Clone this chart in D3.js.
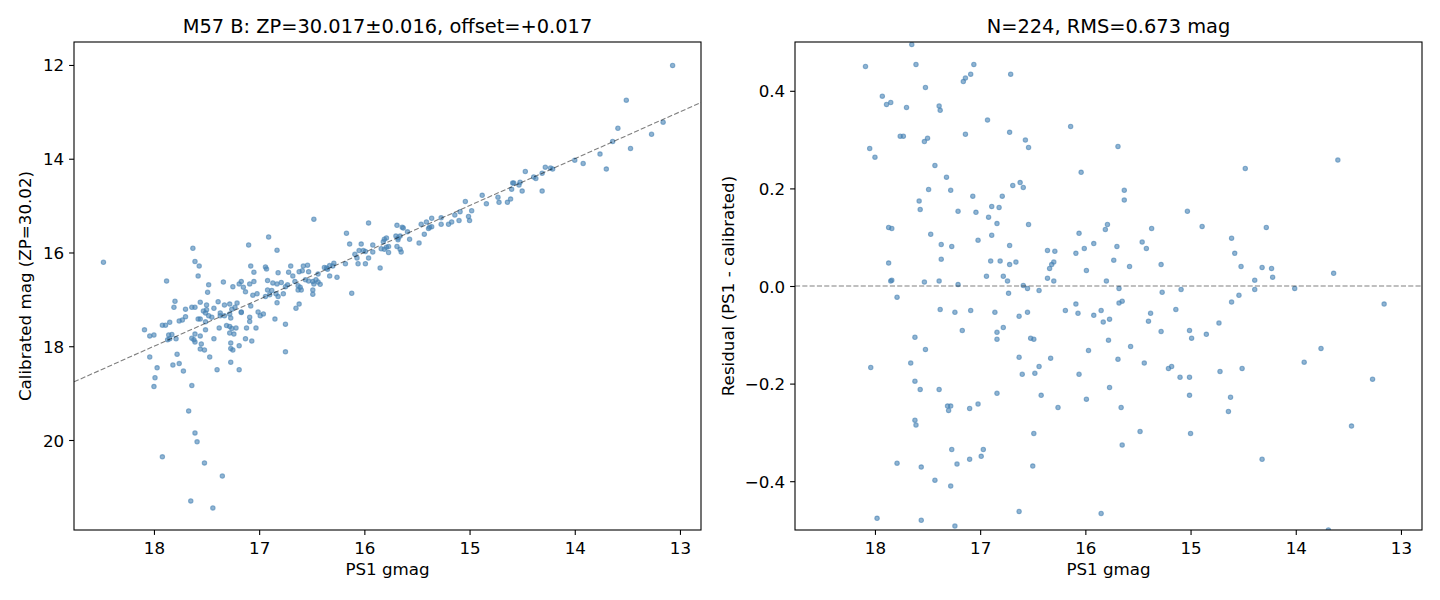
<!DOCTYPE html>
<html><head><meta charset="utf-8">
<script src="https://cdn.jsdelivr.net/npm/d3@7"></script>
<style>
body{margin:0;background:#fff}
svg{display:block}
text{font-family:"DejaVu Sans",sans-serif;fill:#000}
</style>
</head><body><svg id="c" width="1440" height="600"></svg>
<script>
const leftTitle = "M57 B: ZP=30.017\u00b10.016, offset=+0.017";
const rightTitle = "N=224, RMS=0.673 mag";
const xLabel = "PS1 gmag";
const leftYLabel = "Calibrated mag (ZP=30.02)";
const rightYLabel = "Residual (PS1 - calibrated)";
const gmagTicks = [18,17,16,15,14,13];
const magTicks = [12,14,16,18,20];
const residTicks = [-0.4,-0.2,0,0.2,0.4];

// [PS1 gmag, calibrated mag]
const calibPoints = [
[18.48,16.21],[16.91,15.67],[17.10,15.84],[16.83,15.95],[17.63,15.91],[17.61,16.19],[17.57,16.29],[17.08,16.29],
[16.94,16.31],[16.93,16.35],[17.05,16.42],[16.82,16.43],[17.58,16.50],[17.88,16.61],[17.34,16.63],[17.48,16.69],
[17.17,16.62],[17.19,16.67],[17.09,16.67],[17.05,16.62],[16.92,16.60],[16.87,16.65],[16.83,16.67],[16.79,16.64],
[17.25,16.73],[17.15,16.74],[17.13,16.84],[17.49,16.85],[16.92,16.80],[16.88,16.81],[16.90,16.90],[16.84,16.88],
[16.82,16.94],[16.77,16.88],[17.06,16.91],[17.02,16.88],[16.94,16.94],[16.83,17.07],[17.80,17.04],[17.81,17.17],
[17.56,17.06],[17.50,17.12],[17.39,17.05],[17.33,17.12],[17.28,17.10],[17.21,17.08],[17.23,17.17],[17.26,17.21],
[17.17,17.27],[17.08,17.14],[17.64,17.17],[17.61,17.17],[17.70,17.21],[17.53,17.25],[17.50,17.22],[17.51,17.29],
[17.48,17.35],[17.43,17.19],[17.37,17.29],[17.37,17.35],[17.45,17.38],[17.33,17.35],[17.28,17.31],[17.27,17.40],
[17.17,17.28],[17.09,17.38],[17.09,17.47],[17.01,17.27],[16.99,17.35],[16.96,17.31],[16.85,17.42],[16.75,17.53],
[17.70,17.37],[17.76,17.46],[17.73,17.44],[17.58,17.42],[17.56,17.42],[17.51,17.48],[17.85,17.49],[17.92,17.55],
[17.89,17.55],[18.09,17.65],[18.00,17.76],[18.04,17.78],[17.86,17.76],[17.83,17.75],[17.85,17.84],[17.87,17.86],
[17.79,17.84],[17.51,17.65],[17.38,17.61],[17.31,17.56],[17.28,17.58],[17.26,17.62],[17.22,17.61],[17.28,17.72],
[17.24,17.74],[17.12,17.61],[17.03,17.61],[17.64,17.83],[17.61,17.74],[17.62,17.86],[17.56,17.78],[17.61,17.91],
[17.55,17.95],[17.43,17.84],[17.27,17.93],[17.13,17.84],[17.07,17.89],[17.56,18.06],[17.52,18.08],[17.27,18.05],
[17.25,18.08],[17.19,17.99],[17.78,18.17],[17.47,18.23],[18.04,18.23],[16.75,18.12],[17.97,18.46],[17.82,18.40],
[17.76,18.37],[17.72,18.53],[17.40,18.50],[17.27,18.34],[17.19,18.50],[17.99,18.67],[18.00,18.86],[17.64,18.84],
[17.67,19.38],[17.61,19.85],[17.59,20.04],[17.92,20.36],[17.52,20.49],[17.35,20.77],[17.65,21.30],[17.44,21.45],
[15.04,14.91],[16.48,15.29],[15.96,15.37],[15.69,15.42],[15.64,15.46],[15.63,15.48],[15.59,15.56],[15.46,15.40],
[15.41,15.35],[15.36,15.27],[15.38,15.46],[15.39,15.49],[15.36,15.45],[15.27,15.26],[15.27,15.40],[15.20,15.40],
[15.17,15.35],[15.14,15.20],[15.10,15.32],[15.09,15.13],[15.01,15.23],[14.98,15.11],[15.00,15.32],[15.43,15.61],
[15.48,15.80],[15.57,15.72],[16.17,15.59],[16.14,15.82],[16.03,15.82],[15.92,15.84],[15.81,15.72],[15.79,15.69],
[15.82,15.77],[15.70,15.65],[15.68,15.69],[15.66,15.65],[15.68,15.73],[15.69,15.87],[15.66,15.93],[15.65,15.99],
[15.84,15.92],[15.81,15.93],[15.79,15.89],[15.77,15.87],[15.77,16.00],[15.92,15.99],[16.05,15.96],[16.01,15.96],
[15.99,15.98],[16.09,16.04],[16.07,16.12],[16.06,16.24],[15.96,16.12],[15.99,16.24],[16.18,16.24],[15.85,16.33],
[16.29,16.23],[16.30,16.29],[16.33,16.28],[16.36,16.33],[16.35,16.36],[16.38,16.32],[16.44,16.46],[16.33,16.50],
[16.26,16.53],[16.54,16.27],[16.58,16.29],[16.59,16.39],[16.62,16.41],[16.53,16.41],[16.70,16.29],[16.72,16.42],
[16.68,16.50],[16.75,16.73],[16.73,16.69],[16.66,16.62],[16.63,16.71],[16.61,16.74],[16.56,16.58],[16.53,16.61],
[16.49,16.62],[16.46,16.58],[16.44,16.63],[16.42,16.68],[16.48,16.67],[16.63,16.80],[16.60,16.80],[16.49,16.80],
[16.49,16.89],[16.12,16.87],[16.62,17.10],[16.65,17.19],
[13.07,12.01],[13.51,12.75],[13.59,13.35],[13.16,13.22],[13.27,13.48],[13.64,13.63],[13.47,13.78],[13.76,13.90],
[13.70,14.22],[14.00,14.03],[13.92,14.10],[14.47,14.27],[14.28,14.18],[14.23,14.20],[14.21,14.22],[14.31,14.31],
[14.39,14.39],[14.37,14.42],[14.59,14.52],[14.58,14.52],[14.52,14.50],[14.53,14.56],[14.60,14.65],[14.50,14.69],
[14.31,14.69],[14.88,14.78],[14.73,14.82],[14.72,14.93],[14.84,14.96],[14.64,14.93],[14.61,14.86]
];

// [PS1 gmag, residual]
const residPoints = [
[17.65,0.495],[18.09,0.450],[17.61,0.454],[17.06,0.454],[17.09,0.434],[17.14,0.426],[17.16,0.419],[16.71,0.434],
[17.52,0.407],[17.93,0.389],[17.89,0.372],[17.85,0.376],[17.70,0.366],[17.39,0.369],[17.38,0.360],[16.93,0.340],
[16.72,0.315],[17.14,0.311],[17.76,0.307],[17.73,0.307],[17.50,0.303],[17.53,0.296],[16.57,0.299],[16.54,0.284],
[18.05,0.282],[18.00,0.264],[17.43,0.247],[17.32,0.223],[17.49,0.198],[17.28,0.196],[16.62,0.212],[16.69,0.206],
[16.59,0.202],[17.07,0.184],[16.79,0.184],[17.58,0.174],[17.57,0.157],[17.21,0.153],[17.04,0.151],[16.89,0.163],
[16.82,0.161],[16.92,0.141],[16.84,0.128],[16.54,0.126],[17.87,0.120],[17.84,0.118],[17.47,0.106],[16.89,0.104],
[17.02,0.094],[17.37,0.085],[17.27,0.081],[16.72,0.083],[16.36,0.073],[16.29,0.071],[17.37,0.055],[17.87,0.047],
[16.90,0.051],[16.81,0.051],[16.72,0.044],[16.66,0.049],[16.34,0.036],[16.32,0.044],[16.30,0.049],[16.94,0.020],
[16.78,0.020],[16.74,0.010],[17.84,0.012],[17.85,0.010],[17.53,0.008],[17.39,0.010],[17.21,0.003],[16.36,0.016],
[16.30,0.010],[16.59,0.001],[16.55,-0.005],[16.44,-0.009],
[17.79,-0.023],[16.73,-0.015],[17.38,-0.048],[17.24,-0.054],[17.09,-0.050],[16.86,-0.054],[16.63,-0.062],[16.55,-0.054],
[17.17,-0.091],[16.78,-0.085],[16.84,-0.095],[16.84,-0.109],[16.52,-0.107],[16.49,-0.109],[17.62,-0.105],[17.52,-0.130],
[18.04,-0.167],[17.66,-0.158],[16.63,-0.146],[16.33,-0.148],[16.44,-0.165],[16.60,-0.181],[16.48,-0.179],[17.62,-0.195],
[17.57,-0.212],[17.39,-0.212],[16.84,-0.220],[16.42,-0.224],[17.31,-0.246],[17.28,-0.246],[17.30,-0.255],[17.10,-0.251],
[17.02,-0.242],[16.26,-0.249],[17.62,-0.275],[17.61,-0.285],[16.49,-0.302],[17.27,-0.335],[16.97,-0.335],[16.99,-0.349],
[17.10,-0.355],[17.22,-0.365],[17.79,-0.363],[17.56,-0.371],[16.50,-0.369],[17.43,-0.398],[17.28,-0.410],[16.63,-0.462],
[17.98,-0.476],[17.56,-0.480],[17.24,-0.492],
[16.14,0.327],[15.69,0.286],[16.04,0.233],[15.63,0.196],[15.63,0.176],[15.03,0.153],[14.89,0.122],[14.48,0.241],
[15.79,0.126],[15.81,0.116],[16.06,0.108],[15.37,0.118],[15.92,0.087],[16.09,0.067],[16.01,0.077],[15.70,0.081],
[15.46,0.090],[15.42,0.077],[14.61,0.098],[14.58,0.067],[14.52,0.040],[15.73,0.053],[15.99,0.032],[15.58,0.040],
[15.28,0.044],[15.80,0.010],[15.68,-0.005],[15.09,-0.007],[14.39,0.012],
[15.27,-0.013],[14.39,-0.007],[16.19,-0.050],[16.09,-0.037],[16.07,-0.056],[15.92,-0.060],[15.85,-0.050],[15.83,-0.074],
[15.77,-0.068],[15.68,-0.035],[15.65,-0.031],[15.38,-0.056],[15.40,-0.072],[15.14,-0.048],[14.61,-0.033],[14.54,-0.019],
[15.28,-0.093],[15.01,-0.091],[14.99,-0.107],[14.85,-0.099],[14.73,-0.076],[15.78,-0.111],[15.97,-0.132],[15.57,-0.124],
[15.69,-0.150],[15.44,-0.158],[15.21,-0.169],[15.18,-0.165],[15.10,-0.187],[15.01,-0.187],[14.72,-0.175],[14.51,-0.169],
[16.06,-0.181],[15.77,-0.208],[15.99,-0.232],[15.66,-0.249],[15.01,-0.224],[14.62,-0.228],[14.64,-0.257],[15.48,-0.298],
[15.00,-0.302],[15.65,-0.326],[15.85,-0.466],
[13.60,0.258],[14.28,0.120],[14.32,0.038],[14.23,0.036],[14.22,0.018],[13.64,0.026],[14.01,-0.005],[13.16,-0.037],
[13.76,-0.128],[13.92,-0.156],[13.27,-0.191],[13.47,-0.287],[14.32,-0.355],[13.69,-0.500]
];

const svg = d3.select("#c");
const TOP = 42, BOTTOM = 530;
const gDomain = [18.76, 12.80];
const pointColor = "#4682b4";
const FS = 16.7, TFS = 19.4;

function panel(id, x0, x1, yDomain, yTicks, yFmt, title, yLabel, yLabelOffset, points, refLine) {
  const x = d3.scaleLinear().domain(gDomain).range([x0, x1]);
  const y = d3.scaleLinear().domain(yDomain).range([BOTTOM, TOP]);
  const g = svg.append("g");

  g.append("clipPath").attr("id", id).append("rect")
    .attr("x", x0).attr("y", TOP).attr("width", x1 - x0).attr("height", BOTTOM - TOP);

  const plot = g.append("g").attr("clip-path", `url(#${id})`);
  plot.selectAll("circle").data(points).join("circle")
    .attr("cx", d => x(d[0])).attr("cy", d => y(d[1])).attr("r", 2.2)
    .attr("fill", pointColor).attr("fill-opacity", 0.6)
    .attr("stroke", pointColor).attr("stroke-opacity", 0.6).attr("stroke-width", 1.1);

  plot.append("path").datum(refLine(x, y))
    .attr("d", d3.line().x(d => d[0]).y(d => d[1]))
    .attr("fill", "none").attr("stroke", "#000").attr("stroke-opacity", 0.5)
    .attr("stroke-width", 1.1).attr("stroke-dasharray", "5.1,2.2");

  const xAxis = d3.axisBottom(x).tickValues(gmagTicks).tickFormat(d3.format("d"))
    .tickSize(4.9).tickPadding(4.9).tickSizeOuter(0);
  const xa = g.append("g").attr("transform", `translate(0,${BOTTOM})`).call(xAxis);
  const yAxis = d3.axisLeft(y).tickValues(yTicks).tickFormat(yFmt)
    .tickSize(4.9).tickPadding(4.9).tickSizeOuter(0);
  const ya = g.append("g").attr("transform", `translate(${x0},0)`).call(yAxis);
  [xa, ya].forEach(a => {
    a.select(".domain").remove();
    a.selectAll(".tick line").attr("stroke", "#000").attr("stroke-width", 1.1);
    a.selectAll(".tick text").attr("font-size", FS + "px").attr("font-family", "DejaVu Sans").attr("fill", "#000");
  });
  xa.selectAll(".tick text").attr("dy", "0.85em");
  ya.selectAll(".tick text").attr("dy", "0.36em");

  g.append("rect").attr("x", x0).attr("y", TOP).attr("width", x1 - x0).attr("height", BOTTOM - TOP)
    .attr("fill", "none").attr("stroke", "#000").attr("stroke-width", 1.1);

  g.append("text").attr("x", (x0 + x1) / 2).attr("y", 32.5).attr("text-anchor", "middle")
    .attr("font-size", TFS + "px").text(title);
  g.append("text").attr("x", (x0 + x1) / 2).attr("y", 574.5).attr("text-anchor", "middle")
    .attr("font-size", FS + "px").text(xLabel);
  g.append("text").attr("transform", `translate(${x0 - yLabelOffset},${(TOP + BOTTOM) / 2}) rotate(-90)`)
    .attr("text-anchor", "middle").attr("font-size", FS + "px").text(yLabel);
}

const minusFmt = d => (d < 0 ? "\u2212" : "") + d3.format(".1f")(Math.abs(d));

panel("clipL", 74, 701, [21.92, 11.51], magTicks, d3.format("d"), leftTitle, leftYLabel, 42.8, calibPoints,
  (x, y) => gDomain.map(v => [x(v), y(v)]));
panel("clipR", 795, 1422, [-0.5, 0.5], residTicks, minusFmt, rightTitle, rightYLabel, 61, residPoints,
  (x, y) => gDomain.map(v => [x(v), y(0)]));
</script>
</body></html>
